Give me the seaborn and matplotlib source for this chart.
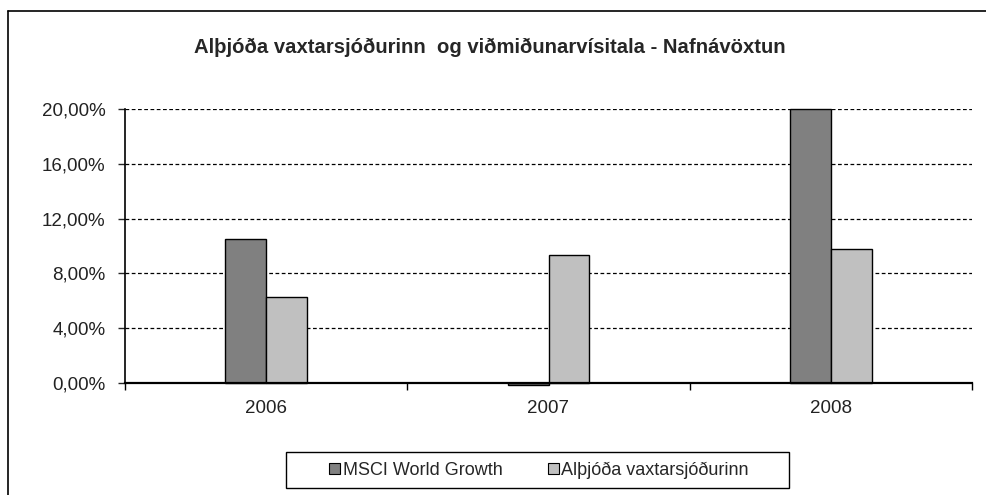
import numpy as np
import pandas as pd
import matplotlib
matplotlib.use("Agg")
import matplotlib.pyplot as plt
from matplotlib.ticker import FuncFormatter, FixedLocator
from matplotlib.lines import Line2D
from matplotlib.patches import Rectangle
import seaborn as sns

years = ["2006", "2007", "2008"]
series = ["MSCI World Growth", "Alþjóða vaxtarsjóðurinn"]
msci = [10.5, -0.15, 20.0]
fund = [6.25, 9.35, 9.8]
colors = ["#808080", "#c0c0c0"]

df = pd.DataFrame({
    "year": years * 2,
    "series": [series[0]] * 3 + [series[1]] * 3,
    "value": msci + fund,
})

sns.set_style("white")
plt.rcParams["font.family"] = ["Liberation Sans", "DejaVu Sans"]

fig = plt.figure(figsize=(9.86, 4.95), dpi=100)
ax = fig.add_axes([125 / 986, 1 - 383 / 495, (972 - 125) / 986, (383 - 109) / 495])

sns.barplot(data=df, x="year", y="value", hue="series", palette=colors,
            width=0.29, edgecolor="black", linewidth=1, ax=ax, legend=False)
for p in ax.patches:
    p.set_clip_on(False)

ax.set_xlim(-0.5, 2.5)
ax.set_ylim(0, 20)
ax.set_yticks(np.arange(0, 21, 4))
ax.yaxis.set_major_formatter(FuncFormatter(lambda v, _: f"{v:.2f}".replace(".", ",") + "%"))
ax.yaxis.grid(True, linestyle=(0, (3, 2)), color="black", linewidth=0.9)
ax.set_axisbelow(True)
ax.set_xlabel("")
ax.set_ylabel("")

ax.xaxis.set_minor_locator(FixedLocator([-0.5, 0.5, 1.5, 2.5]))
ax.tick_params(axis="x", which="major", length=0, labelsize=13.5, pad=12)
ax.tick_params(axis="x", which="minor", length=5, width=1, direction="out", color="black", bottom=True)
ax.tick_params(axis="y", length=5, width=1, direction="out", left=True, labelsize=13.5, pad=9)
for lbl in ax.get_yticklabels() + ax.get_xticklabels():
    lbl.set_color("#222222")

for s in ["top", "right"]:
    ax.spines[s].set_visible(False)
ax.spines["left"].set_color("black")
ax.spines["bottom"].set_color("black")
ax.spines["left"].set_linewidth(1.2)
ax.spines["bottom"].set_linewidth(1.6)

fig.text(0.497, 1 - 47 / 495, "Alþjóða vaxtarsjóðurinn  og viðmiðunarvísitala - Nafnávöxtun",
         ha="center", va="center", fontsize=14.6, fontweight="bold")

handles = [plt.Rectangle((0, 0), 1, 1, facecolor=c, edgecolor="black", linewidth=0.8) for c in colors]
leg = fig.legend(handles, series, loc="center", bbox_to_anchor=(539 / 986, 1 - 470 / 495),
                 ncol=2, frameon=False, handlelength=0.6, handleheight=0.6,
                 handletextpad=0.15, columnspacing=2.5, borderpad=0, fontsize=13)
fig.add_artist(Rectangle((286 / 986, 1 - 488 / 495), (789 - 286) / 986, 36 / 495,
                         transform=fig.transFigure, facecolor="none", edgecolor="black", lw=1.0))

# outer chart border
fig.add_artist(Line2D([8 / 986, 8 / 986], [0, 1 - 11 / 495], color="black", lw=1.2, transform=fig.transFigure))
fig.add_artist(Line2D([8 / 986, 1], [1 - 11 / 495, 1 - 11 / 495], color="black", lw=1.2, transform=fig.transFigure))

fig.savefig("out.png", dpi=100, facecolor="white")
